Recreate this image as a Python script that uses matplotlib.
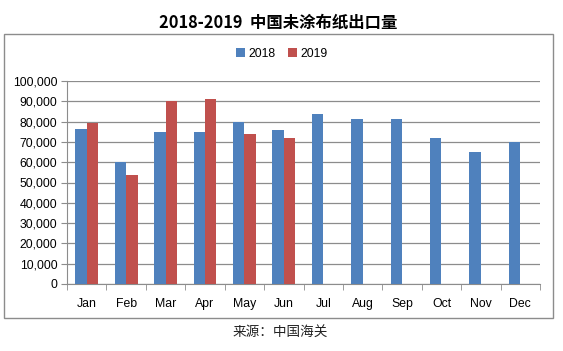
import numpy as np
import matplotlib.pyplot as plt
from matplotlib.patches import Rectangle

plt.rcParams['font.family'] = ['Liberation Sans', 'Noto Sans CJK SC', 'DejaVu Sans']

months = ['Jan', 'Feb', 'Mar', 'Apr', 'May', 'Jun',
          'Jul', 'Aug', 'Sep', 'Oct', 'Nov', 'Dec']
exports_2018 = [76500, 60000, 75000, 75000, 80000, 76000,
                83700, 81500, 81500, 72000, 65000, 70000]
exports_2019 = [79200, 53700, 90000, 91000, 73800, 72000,
                np.nan, np.nan, np.nan, np.nan, np.nan, np.nan]
y_ticks = list(range(0, 100001, 10000))

blue = '#4F81BD'
red = '#C0504D'
grid_col = '#8C8C8C'

fig = plt.figure(figsize=(5.63, 3.51), dpi=100)

# outer chart frame
fig.patches.append(Rectangle((3.5 / 563, 1 - 318 / 351), 549.5 / 563, 284 / 351,
                             transform=fig.transFigure, fill=False,
                             edgecolor='#8C8C8C', linewidth=1.0))

ax = fig.add_axes([67 / 563, 1 - 284 / 351, 473 / 563, 203 / 351])

x = np.arange(len(months))
w = 0.29
ax.bar(x - w / 2, exports_2018, w, color=blue, label='2018', zorder=3)
ax.bar(x + w / 2, exports_2019, w, color=red, label='2019', zorder=3)

ax.set_xlim(-0.5, len(months) - 0.5)
ax.set_ylim(0, 100000)
ax.set_yticks(y_ticks)
ax.set_yticklabels([f'{v:,}' for v in y_ticks], fontsize=8.8)
ax.yaxis.grid(True, color=grid_col, linewidth=0.9, zorder=0)

ax.set_xticks(x)
ax.set_xticklabels(months, fontsize=8.8)
ax.set_xticks(np.arange(-0.5, len(months)), minor=True)
ax.tick_params(axis='x', which='major', length=0, pad=10)
ax.tick_params(axis='x', which='minor', length=4, color=grid_col, direction='out')
ax.tick_params(axis='y', length=4, color=grid_col, pad=3)

for side in ['top', 'right']:
    ax.spines[side].set_visible(False)
ax.spines['left'].set_color(grid_col)
ax.spines['bottom'].set_color(grid_col)

fig.legend(loc='center', bbox_to_anchor=(282 / 563, 1 - 54 / 351), ncol=2,
           frameon=False, fontsize=8.8, handlelength=0.7, handleheight=0.7,
           handletextpad=0.3, columnspacing=1.0)

fig.text(278 / 563, 1 - 23 / 351, '2018-2019  中国未涂布纸出口量',
         ha='center', va='center', fontsize=11.8, fontweight='bold',
         family=['Noto Sans CJK SC', 'DejaVu Sans'])
fig.text(280 / 563, 1 - 333 / 351, '来源：中国海关', ha='center', va='center',
         fontsize=9.8, style='italic', color='#222222',
         family=['Noto Sans CJK SC', 'DejaVu Sans'])

fig.savefig('out.png', dpi=100)
